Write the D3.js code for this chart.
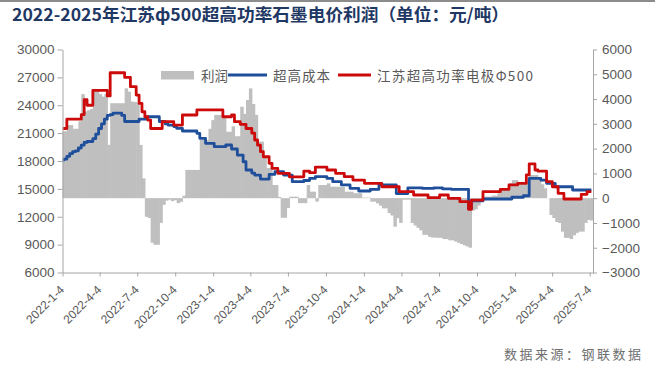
<!DOCTYPE html>
<html><head><meta charset="utf-8">
<script src="https://cdn.jsdelivr.net/npm/d3@7"></script>
<style>body{margin:0;background:#fff}svg{display:block}</style>
</head><body><svg id="c" width="655" height="370"></svg>
<script>
const titleText = "2022-2025年江苏ф500超高功率石墨电价利润（单位：元/吨）";
const sourceText = "数据来源：钢联数据";
const seriesNames = ["利润", "超高成本", "江苏超高功率电极Φ500"];
const firstWeek = "2022-1-4";
const tickLabels = ["2022-1-4","2022-4-4","2022-7-4","2022-10-4","2023-1-4","2023-4-4","2023-7-4","2023-10-4","2024-1-4","2024-4-4","2024-7-4","2024-10-4","2025-1-4","2025-4-4","2025-7-4"];
const leftTicks = [6000,9000,12000,15000,18000,21000,24000,27000,30000];
const rightTicks = [-3000,-2000,-1000,0,1000,2000,3000,4000,5000,6000];

// weekly 江苏超高功率电极Φ500 price (left axis)
const price = [
21500,21500,22500,22500,22500,22500,22500,23000,24600,24000,
24000,25600,25600,25600,25600,25600,25000,27500,27500,27500,
27500,27500,27000,27000,26000,26000,25100,24200,23300,22760,
22400,21500,21500,21500,21500,22230,22230,22230,22230,21870,
21870,21870,22950,22950,22950,22950,22950,23500,23500,23500,
23500,23500,23500,23500,23500,23500,22760,22760,22760,22950,
22230,22230,21950,21950,21500,21500,21000,20260,19700,19000,
18460,18460,17750,17200,17200,16670,16670,16670,16670,16300,
16300,16300,16300,16300,16900,16900,16740,16740,17350,17350,
17350,17350,17030,17030,17030,16670,16670,16670,16310,16310,
16310,15950,15950,15950,15950,15600,15600,15600,15600,15600,
15600,15230,15230,15230,15230,15230,15230,14700,14700,14700,
14700,14700,14340,14340,14340,14340,14340,14050,14050,14050,
14050,14340,14340,14340,13980,13980,13980,13980,13620,13620,
13620,12800,13800,13800,13800,13800,14700,14700,14700,14700,
14700,14700,14950,14950,14950,15420,15420,15420,15600,15600,
15600,16500,17700,17700,17030,16900,16900,16900,15770,15770,
15230,15230,14520,14520,13910,13910,13910,13910,13910,13910,
14410,14410,14700,14700];

// weekly 超高成本 (left axis)
const cost = [
18100,18200,18500,18800,19000,19100,19400,19700,20000,20100,
20100,20400,20900,21500,22000,22500,22900,23000,23150,23150,
23150,22900,22250,22250,22250,22250,22250,22500,22500,22500,
22760,22760,22760,22760,22250,22250,22000,21870,21870,21700,
21520,21520,21230,21230,21230,21230,21230,20980,20440,20440,
19900,19900,19900,19540,19540,19540,19540,19720,19720,19290,
19290,18640,18640,17920,17030,17030,16700,16490,16490,16060,
16060,16060,16570,16570,16850,16850,16850,16490,16490,16490,
15770,15770,15770,15770,15900,15900,16130,16130,16310,16310,
16310,16310,16130,16130,15770,15770,15770,15420,15420,15420,
15060,15060,15060,14770,14770,14770,14770,14950,14950,14950,
15420,15420,15420,15420,15420,15420,14500,14500,14500,14500,
15100,15100,15100,15100,15100,15050,15050,15050,15050,15100,
15100,15100,15000,15000,15000,14950,14950,14950,14950,14950,
14950,12870,13700,13700,13700,13700,13910,13910,13910,13910,
13910,13910,13910,13910,13910,13910,14100,14100,14100,14100,
14260,14260,16130,16130,16130,16130,15950,15950,15600,15600,
15600,15230,15230,15230,15230,15230,15230,14880,14880,14880,
14880,14880,14880,14880];

// weekly 利润 (right axis)
const profit = [
2700,2700,2950,2950,2800,2800,3100,4200,3500,3550,
3600,4380,4400,4200,4100,4200,2150,3830,3830,3830,
3830,3830,4430,4300,3900,3880,3850,2150,800,-750,
-800,-1800,-1880,-1880,-1000,-270,-100,-60,-120,-80,
-200,-150,100,1140,1140,1140,1140,1140,2350,2350,
2350,2800,3150,3360,3360,3360,3300,2680,2680,2900,
2500,2500,3690,3400,3960,4430,3800,3360,2280,2280,
1700,1220,1220,530,530,50,-790,-790,-400,60,
60,60,-200,-200,-200,530,260,260,-140,530,
530,530,600,460,460,460,460,460,260,260,
260,200,200,200,20,20,20,-140,-140,-210,
-300,-410,-410,-600,-700,-1150,-810,-1000,-60,-60,
-60,-1000,-1100,-1200,-1300,-1480,-1480,-1560,-1590,-1590,
-1600,-1600,-1650,-1650,-1700,-1700,-1750,-1800,-1850,-1900,
-1950,-2000,-500,-450,-300,-150,60,60,60,100,
100,200,400,400,400,600,730,730,560,560,
560,650,935,935,935,730,560,400,0,-680,
-800,-960,-1000,-1350,-1600,-1600,-1650,-1500,-1400,-1350,
-1350,-1000,-880,-900];

const parse = d3.timeParse("%Y-%m-%d");
const start = parse(firstWeek);
const dates = price.map((_, i) => d3.timeDay.offset(start, 7 * i));
const tickDates = tickLabels.map(parse);
const data = dates.map((d, i) => ({date: d, price: price[i], cost: cost[i], profit: profit[i]}));

const L = 62.5, R = 593, T = 49.5, B = 272.5;
const x = d3.scaleTime().domain([start, parse("2025-7-12")]).range([L, R]);
const yL = d3.scaleLinear().domain([6000, 30000]).range([B, T]);
const yR = d3.scaleLinear().domain([-3000, 6000]).range([B, T]);

const svg = d3.select("#c");
svg.append("rect").attr("x",0).attr("y",0).attr("width",655).attr("height",370).attr("fill","#fff");
svg.append("rect").attr("x",0).attr("y",0).attr("width",655).attr("height",2).attr("fill","#8c8c8c");

svg.append("text").attr("x",12).attr("y",21)
  .attr("font-family","'Noto Sans CJK SC', sans-serif").attr("font-weight","bold")
  .attr("font-size",17).attr("fill","#1f3864")
  .attr("textLength",497).attr("lengthAdjust","spacingAndGlyphs")
  .text(titleText);

svg.append("defs").append("clipPath").attr("id","clip")
  .append("rect").attr("x",L).attr("y",T-5).attr("width",R-L).attr("height",B-T+5);

const g = svg.append("g").attr("clip-path","url(#clip)");
const step = x(dates[1]) - x(dates[0]);
g.selectAll("rect.bar").data(data).join("rect").attr("class","bar")
  .attr("x", d => x(d.date) - step/2)
  .attr("width", step + 0.6)
  .attr("y", d => Math.min(yR(d.profit), yR(0)))
  .attr("height", d => Math.abs(yR(d.profit) - yR(0)))
  .attr("fill","#bfbfbf");

const lineCost = d3.line().x(d => x(d.date)).y(d => yL(d.cost)).curve(d3.curveStep);
const linePrice = d3.line().x(d => x(d.date)).y(d => yL(d.price)).curve(d3.curveStep);
g.append("path").datum(data).attr("d", lineCost).attr("fill","none")
  .attr("stroke","#1f4e9a").attr("stroke-width",2.8).attr("stroke-linejoin","round");
g.append("path").datum(data).attr("d", linePrice).attr("fill","none")
  .attr("stroke","#cc0a0a").attr("stroke-width",2.8).attr("stroke-linejoin","round");

function styleAxis(sel, fs) {
  sel.select(".domain").attr("stroke","#a6a6a6");
  sel.selectAll(".tick line").attr("stroke","#a6a6a6");
  sel.selectAll("text").attr("fill","#595959").attr("font-size",fs)
    .attr("font-family","'Liberation Sans', Arial, sans-serif");
}

const ax1 = svg.append("g").attr("transform",`translate(${L},0)`)
  .call(d3.axisLeft(yL).tickValues(leftTicks).tickSize(5).tickSizeOuter(0).tickPadding(3).tickFormat(d3.format("d")));
styleAxis(ax1, 13.5);

const ax2 = svg.append("g").attr("transform",`translate(${R},0)`)
  .call(d3.axisRight(yR).tickValues(rightTicks).tickSize(4).tickSizeOuter(0).tickPadding(5).tickFormat(d3.format("d")));
styleAxis(ax2, 13.5);

const ax3 = svg.append("g").attr("transform",`translate(0,${B})`)
  .call(d3.axisBottom(x).tickValues(tickDates).tickSize(4).tickSizeOuter(0).tickFormat((d,i) => tickLabels[i]));
styleAxis(ax3, 12);
ax3.selectAll("text").attr("x",0).attr("y",0).attr("dy",0)
  .attr("text-anchor","end").attr("transform","translate(2,18) rotate(-45)");

// legend
const lg = svg.append("g").attr("font-family","'Noto Sans CJK SC', sans-serif").attr("font-size",13.5).attr("fill","#595959");
lg.append("rect").attr("x",161).attr("y",71).attr("width",33).attr("height",8.5).attr("fill","#bfbfbf");
lg.append("text").attr("x",201).attr("y",75).attr("dominant-baseline","central").text(seriesNames[0]);
lg.append("line").attr("x1",228).attr("x2",267).attr("y1",75).attr("y2",75).attr("stroke","#1f4e9a").attr("stroke-width",2.8);
lg.append("text").attr("x",273).attr("y",75).attr("dominant-baseline","central").attr("textLength",57).text(seriesNames[1]);
lg.append("line").attr("x1",338).attr("x2",371).attr("y1",75).attr("y2",75).attr("stroke","#cc0a0a").attr("stroke-width",2.8);
lg.append("text").attr("x",377).attr("y",75).attr("dominant-baseline","central").attr("textLength",156).text(seriesNames[2]);

svg.append("text").attr("x",641).attr("y",359).attr("text-anchor","end")
  .attr("font-family","'Noto Sans CJK SC', sans-serif").attr("font-size",13)
  .attr("fill","#6f6f6f").attr("textLength",137).text(sourceText);
</script>
</body></html>
